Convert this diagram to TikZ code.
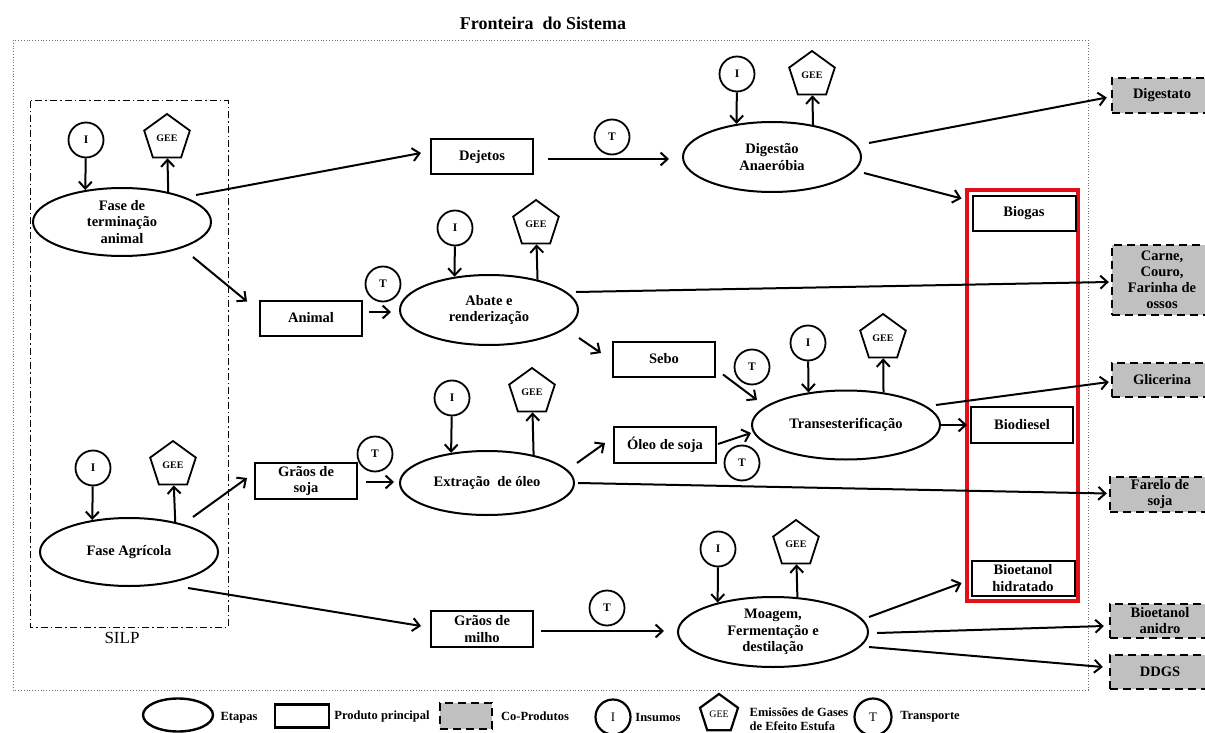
\documentclass[tikz,border=0pt]{standalone}
\usepackage{fontspec}
\setmainfont{Liberation Serif}
\usetikzlibrary{shapes.geometric,arrows.meta,calc}
\definecolor{cogray}{RGB}{192,192,192}
\definecolor{framered}{RGB}{224,16,22}
\definecolor{bordergray}{RGB}{110,110,110}
\newcommand\myfs[2]{\fontsize{#1}{#2}\selectfont}
\begin{document}
\begin{tikzpicture}[x=1pt,y=-1pt,
  stage/.style={ellipse, draw, line width=2pt, inner sep=0pt, align=center,
                font=\bfseries\myfs{14.5}{16.5}},
  prod/.style={rectangle, draw, line width=2pt, inner sep=0pt, align=center,
               minimum width=102pt, minimum height=35pt, font=\bfseries\myfs{14.5}{16.5}},
  coprod/.style={rectangle, draw, line width=2.4pt, dash pattern=on 8pt off 5pt,
                 fill=cogray, inner sep=0pt, align=center, minimum width=100pt,
                 font=\bfseries\myfs{14.5}{16}},
  inp/.style={circle, draw, line width=1.8pt, minimum size=35pt, inner sep=0pt,
              font=\bfseries\myfs{11.5}{12}},
  gee/.style={regular polygon, regular polygon sides=5, draw, line width=1.8pt,
              minimum size=48pt, inner sep=0pt, font=\bfseries\myfs{10}{10}},
  arr/.style={line width=2pt, -{Straight Barb[length=7pt,width=13pt,line width=2pt]}},
  legtext/.style={font=\bfseries\myfs{12.5}{14.5}, align=left, inner sep=0pt},
]
\clip (0,0) rectangle (1205,733);
\fill[white] (0,0) rectangle (1205,733);

% system boundary and SILP frame
\draw[bordergray, line width=0.8pt, dotted] (13,40) rectangle (1088,690);
\node (title) at (543,23) {\bfseries\myfs{18}{20}Fronteira\ \ do Sistema};
\draw[line width=1pt, dash pattern=on 7pt off 3pt on 1.5pt off 3pt] (30,101) rectangle (228,627);
\node (silp) at (122,638) {\myfs{17}{19}SILP};

% main products frame
\draw[framered, line width=4.5pt] (967,190) rectangle (1078,601);

% stages
\node[stage, minimum width=178pt, minimum height=68pt] (term) at (122,222) {Fase de\\terminação\\animal};
\node[stage, minimum width=178pt, minimum height=68pt] (agr) at (129,552) {Fase Agrícola};
\node[stage, minimum width=178pt, minimum height=70pt] (dig) at (772,157) {Digestão\\Anaeróbia};
\node[stage, minimum width=178pt, minimum height=70pt] (aba) at (489,310) {Abate e\\renderização};
\node[stage, minimum width=174pt, minimum height=64pt] (ext) at (487,483) {Extração\ \ de óleo};
\node[stage, minimum width=188pt, minimum height=69pt] (tra) at (846,425) {Transesterificação};
\node[stage, minimum width=190pt, minimum height=70pt] (moa) at (773,632) {Moagem,\\Fermentação e\\destilação};

% intermediate and main products
\node[prod] (dej) at (482,157) {Dejetos};
\node[prod] (ani) at (311,318) {Animal};
\node[prod] (seb) at (664,359) {Sebo};
\node[prod, minimum height=36pt] (ole) at (665,445) {Óleo de soja};
\node[prod, minimum height=36pt] (soj) at (306,481) {Grãos de\\soja};
\node[prod, minimum height=36pt] (mil) at (482,629) {Grãos de\\milho};
\node[prod, minimum width=103pt] (bgs) at (1024,213) {Biogas};
\node[prod, minimum height=36pt] (bdi) at (1022,425) {Biodiesel};
\node[prod, minimum width=103pt] (bhi) at (1023,578) {Bioetanol\\hidratado};

% co-products
\node[coprod, minimum height=35pt] (dgt) at (1162,95.5) {Digestato};
\node[coprod, minimum height=70pt] (car) at (1162,280) {Carne,\\Couro,\\Farinha de\\ossos};
\node[coprod, minimum height=34pt] (gli) at (1162,380) {Glicerina};
\node[coprod, minimum height=35pt] (far) at (1160,494.5) {Farelo de\\soja};
\node[coprod, minimum height=34pt] (anh) at (1160,621) {Bioetanol\\anidro};
\node[coprod, minimum height=34pt] (ddg) at (1160,672) {DDGS};

% inputs
\node[inp] (Iterm) at (86,140) {I};
\node[inp] (Iagr) at (93,468) {I};
\node[inp] (Idig) at (737,74) {I};
\node[inp] (Iaba) at (455,228) {I};
\node[inp] (Iext) at (452,398) {I};
\node[inp] (Itra) at (808,343) {I};
\node[inp] (Imoa) at (718,549) {I};

% greenhouse gas emissions
\node[gee] (Gterm) at (167,138) {GEE};
\node[gee] (Gagr) at (173,465) {GEE};
\node[gee] (Gdig) at (812,75) {GEE};
\node[gee] (Gaba) at (536,224) {GEE};
\node[gee] (Gext) at (532,392) {GEE};
\node[gee] (Gtra) at (883,338) {GEE};
\node[gee] (Gmoa) at (796,544) {GEE};

% transport
\node[inp] (Tdej) at (612,137) {T};
\node[inp] (Tani) at (383,284) {T};
\node[inp] (Tsoj) at (375,454) {T};
\node[inp] (Tseb) at (752,367) {T};
\node[inp] (Tole) at (742,463) {T};
\node[inp] (Tmil) at (607,608) {T};

% inputs and emissions of each stage
\draw[arr] (Iterm) -- (term.139.2);
\draw[arr] (term.33.1) -- (Gterm);
\draw[arr] (Iagr) -- (agr.139.2);
\draw[arr] (agr.33.9) -- (Gagr);
\draw[arr] (Idig) -- (dig.137.4);
\draw[arr] (dig.38.0) -- (Gdig);
\draw[arr] (Iaba) -- (aba.136.5);
\draw[arr] (aba.32.3) -- (Gaba);
\draw[arr] (Iext) -- (ext.140.1);
\draw[arr] (ext.31.3) -- (Gext);
\draw[arr] (Itra) -- (tra.139.9);
\draw[arr] (tra.41.0) -- (Gtra);
\draw[arr] (Imoa) -- (moa.152.6);
\draw[arr] (moa.55.9) -- (Gmoa);

% material flows
\draw[arr] ($(term.east)+(-16,-27)$) -- ($(dej.west)+(-9,-4)$);
\draw[arr] ($(term.east)+(-19,35)$) -- ($(ani.north west)+(-12,2)$);
\draw[arr] ($(ani.east)+(6,-6)$) -- ($(aba.west)+(-8,2)$);
\draw[arr] ($(dej.east)+(14,2)$) -- ($(dig.west)+(-13,2)$);
\draw[arr] ($(dig.east)+(7,-14)$) -- ($(dgt.west)+(-4,2)$);
\draw[arr] ($(dig.east)+(2,16)$) -- ($(bgs.north west)+(-10,4)$);
\draw[arr] ($(aba.east)+(-3,-18)$) -- ($(car.west)+(-2,2)$);
\draw[arr] ($(aba.east)+(0,28)$) -- ($(seb.west)+(-11,-6)$);
\draw[arr] ($(seb.south east)+(7,-3)$) -- ($(tra.west)+(6,-25)$);
\draw[arr] ($(ext.east)+(2,-20)$) -- ($(ole.west)+(-8,-2)$);
\draw[arr] ($(ole.east)+(1,-1)$) -- ($(tra.west)+(0,8)$);
\draw[arr] ($(ext.east)+(3,0)$) -- ($(far.west)+(-2,-1)$);
\draw[arr] ($(tra.east)+(-5,-20)$) -- ($(gli.west)+(-2,2)$);
\draw[arr] (tra.east) -- ($(bdi.west)+(-3,0)$);
\draw[arr] ($(agr.east)+(-26,-35)$) -- ($(soj.west)+(-7,-3)$);
\draw[arr] ($(soj.east)+(8,1)$) -- ($(ext.west)+(-5,-1)$);
\draw[arr] ($(agr.south)+(59,1)$) -- ($(mil.west)+(-9,-3)$);
\draw[arr] ($(mil.east)+(7,2)$) -- ($(moa.west)+(-13,-1)$);
\draw[arr] ($(moa.east)+(0,-15)$) -- ($(bhi.west)+(-9,5)$);
\draw[arr] ($(moa.east)+(8,1)$) -- ($(anh.west)+(-5,5)$);
\draw[arr] ($(moa.east)+(0,15)$) -- ($(ddg.west)+(-6,-5)$);

% legend
\node[ellipse, draw, line width=2.4pt, minimum width=70pt, minimum height=33pt] (lgst) at (178,715) {};
\node[legtext] (lgstt) at (239,718) {Etapas};
\node[rectangle, draw, line width=2.4pt, minimum width=54pt, minimum height=23pt] (lgpr) at (302,716) {};
\node[legtext] (lgprt) at (382,716) {Produto principal};
\node[rectangle, draw, line width=2.8pt, dash pattern=on 8pt off 5pt, fill=cogray, minimum width=52pt, minimum height=26pt] (lgco) at (466,716) {};
\node[legtext] (lgcot) at (535,716) {Co-Produtos};
\node[circle, draw, line width=2.2pt, minimum size=35pt, inner sep=0pt, font=\myfs{13}{14}] (lgin) at (613,717) {I};
\node[legtext] (lgint) at (658,717) {Insumos};
\node[regular polygon, regular polygon sides=5, draw, line width=2.2pt, minimum size=40pt, inner sep=0pt, font=\myfs{10}{11}] (lgge) at (719,714) {GEE};
\node[legtext] (lgget) at (799,719) {Emissões de Gases\\de Efeito Estufa};
\node[circle, draw, line width=2.2pt, minimum size=37pt, inner sep=0pt, font=\myfs{13}{14}] (lgtr) at (873,717) {T};
\node[legtext] (lgtrt) at (930,717) {Transporte};
\end{tikzpicture}
\end{document}
